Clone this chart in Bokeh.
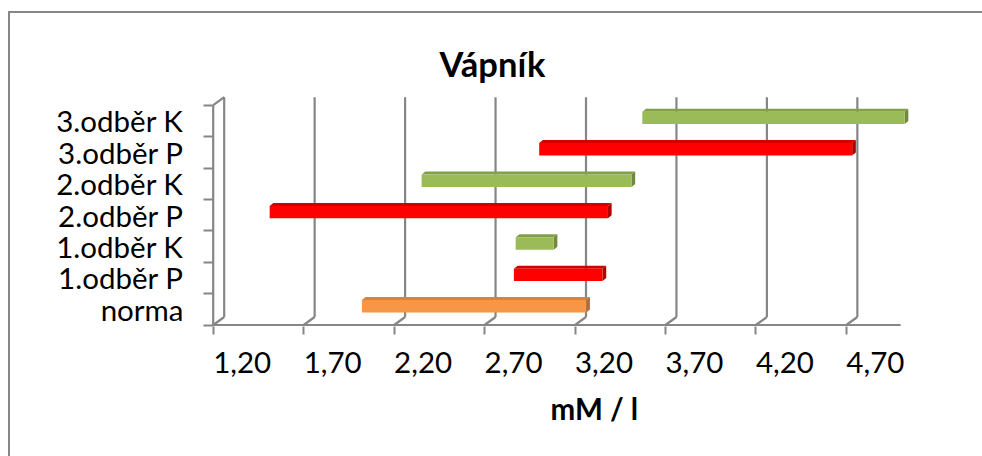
from bokeh.plotting import figure
from bokeh.models import Range1d, FixedTicker, LinearAxis, Title
from bokeh.embed import file_html
from bokeh.resources import INLINE

# ---------------- data ----------------
categories = ["norma", "1.odběr P", "1.odběr K", "2.odběr P", "2.odběr K", "3.odběr P", "3.odběr K"]
range_low = [2.00, 2.84, 2.85, 1.49, 2.33, 2.98, 3.55]
range_high = [3.24, 3.33, 3.06, 3.36, 3.49, 4.71, 5.00]
series_kind = ["norma", "P", "K", "P", "K", "P", "K"]
tick_values = [1.20, 1.70, 2.20, 2.70, 3.20, 3.70, 4.20, 4.70]
tick_labels = ["1,20", "1,70", "2,20", "2,70", "3,20", "3,70", "4,20", "4,70"]
x_min, x_max = 1.20, 5.00
title_text = "Vápník"
x_title = "mM / l"

# ---------------- styles / geometry ----------------
FONT = "Lato"
GRID = "#868686"
face = {"norma": "#F79646", "P": "#FF0000", "K": "#9BBB59"}
top_c = {"norma": "#D9823B", "P": "#D00000", "K": "#82A048"}
side_c = {"norma": "#B86A2C", "P": "#B00000", "K": "#6E8A3A"}

W, H = 982, 456
PPU_X, PPU_Y = 180.9, 31.4            # pixels per data unit
FR_L, FR_R, FR_T, FR_B = 211, 912, 93, 326     # frame in page px
X0_PX, Y0_PX = 212.7, 324.5

DXB, DYB = 11 / PPU_X, 8 / PPU_Y        # depth of the back wall
DXF, DYF = 4 / PPU_X, 3 / PPU_Y         # bar front-face depth
DXS, DYS = 3.7 / PPU_X, 3 / PPU_Y       # bar thickness
BAR_H = 12.4 / PPU_Y
LBL_SHIFT = 29 / PPU_X

x_start = x_min - (X0_PX - FR_L) / PPU_X
x_end = x_min + (FR_R - X0_PX) / PPU_X
y_start = -(FR_B - Y0_PX) / PPU_Y
y_end = (Y0_PX - FR_T) / PPU_Y
n = len(categories)

p = figure(width=W, height=H, x_range=Range1d(x_start, x_end), y_range=Range1d(y_start, y_end),
           x_axis_type=None, y_axis_type=None, toolbar_location=None, output_backend="svg",
           min_border_left=FR_L, min_border_right=W - FR_R, min_border_top=FR_T,
           min_border_bottom=H - FR_B)
# chart-area border (left and top edges visible in the original)
p.styles = {
    "overflow": "hidden",
    "background-color": "white",
    "background-image": f"linear-gradient({GRID}, {GRID}), linear-gradient({GRID}, {GRID})",
    "background-size": "2px 100%, 100% 2px",
    "background-position": "8px 11px, 8px 11px",
    "background-repeat": "no-repeat",
}
p.outline_line_color = None
p.background_fill_color = "white"
p.border_fill_color = None

# back wall gridlines
p.segment(x0=[t + DXB for t in tick_values], y0=[DYB] * len(tick_values),
          x1=[t + DXB for t in tick_values], y1=[n + DYB] * len(tick_values),
          line_color=GRID, line_width=2.2)
# floor connectors from front ticks to back wall
p.segment(x0=tick_values, y0=[0] * len(tick_values),
          x1=[t + DXB for t in tick_values], y1=[DYB] * len(tick_values),
          line_color=GRID, line_width=2.2)
# left wall front edge + top connector
p.segment(x0=[x_min, x_min], y0=[0, n], x1=[x_min, x_min + DXB], y1=[n, n + DYB],
          line_color=GRID, line_width=2.2)
# front floor line
p.segment(x0=[x_min], y0=[0], x1=[x_max], y1=[0], line_color=GRID, line_width=2.2)

# bars (pseudo 3D)
fx, fy, fc = [], [], []
tx, ty, tc = [], [], []
sx, sy, sc = [], [], []
for i in range(n):
    lo, hi, k = range_low[i] + DXF, range_high[i] + DXF, series_kind[i]
    yc = i + 0.5 + DYF
    b, t = yc - BAR_H / 2, yc + BAR_H / 2
    fx.append([lo, hi, hi, lo]); fy.append([b, b, t, t]); fc.append(face[k])
    tx.append([lo, hi, hi + DXS, lo + DXS]); ty.append([t, t, t + DYS, t + DYS]); tc.append(top_c[k])
    sx.append([hi, hi + DXS, hi + DXS, hi]); sy.append([b, b + DYS, t + DYS, t]); sc.append(side_c[k])
p.patches(tx, ty, fill_color=tc, line_color=None)
p.patches(sx, sy, fill_color=sc, line_color=None)
p.patches(fx, fy, fill_color=fc, line_color=None)

# y axis: labels at slot centres, tick marks (minor) at slot boundaries
yax = LinearAxis(ticker=FixedTicker(ticks=[i + 0.5 for i in range(n)], minor_ticks=list(range(n + 1))),
                 major_label_overrides={i + 0.5: c for i, c in enumerate(categories)})
yax.axis_line_color = None
yax.major_tick_line_color = None
yax.major_tick_out = 0
yax.minor_tick_line_color = GRID
yax.minor_tick_line_width = 2
yax.minor_tick_out = 8
yax.minor_tick_in = 2
yax.major_label_standoff = 20
yax.major_label_text_font = FONT
yax.major_label_text_font_size = "29.5px"
yax.major_label_text_color = "black"
p.add_layout(yax, "left")

# x axis: labels shifted right as in the 3D original, tick marks at front positions
p.extra_x_ranges = {"lbl": Range1d(x_start - LBL_SHIFT, x_end - LBL_SHIFT)}
xax = LinearAxis(x_range_name="lbl",
                 ticker=FixedTicker(ticks=tick_values, minor_ticks=[t - LBL_SHIFT for t in tick_values]),
                 major_label_overrides={t: s for t, s in zip(tick_values, tick_labels)})
xax.axis_line_color = None
xax.major_tick_line_color = None
xax.major_tick_out = 0
xax.minor_tick_line_color = GRID
xax.minor_tick_line_width = 2
xax.minor_tick_out = 8
xax.minor_tick_in = 0
xax.major_label_standoff = 17
xax.major_label_text_font = FONT
xax.major_label_text_font_size = "29.5px"
xax.major_label_text_color = "black"
p.add_layout(xax, "below")

xt = Title(text=x_title, align="left", offset=550 - FR_L,
           text_font=FONT, text_font_size="29.5px", text_font_style="bold", text_color="black", standoff=26)
p.add_layout(xt, "below")

p.title.text = title_text
p.title.align = "left"
p.title.offset = 439 - FR_L
p.title.text_font = FONT
p.title.text_font_size = "34.5px"
p.title.text_font_style = "bold"
p.title.text_color = "black"
p.title.standoff = 20

open("out.html", "w").write(file_html(p, INLINE))
